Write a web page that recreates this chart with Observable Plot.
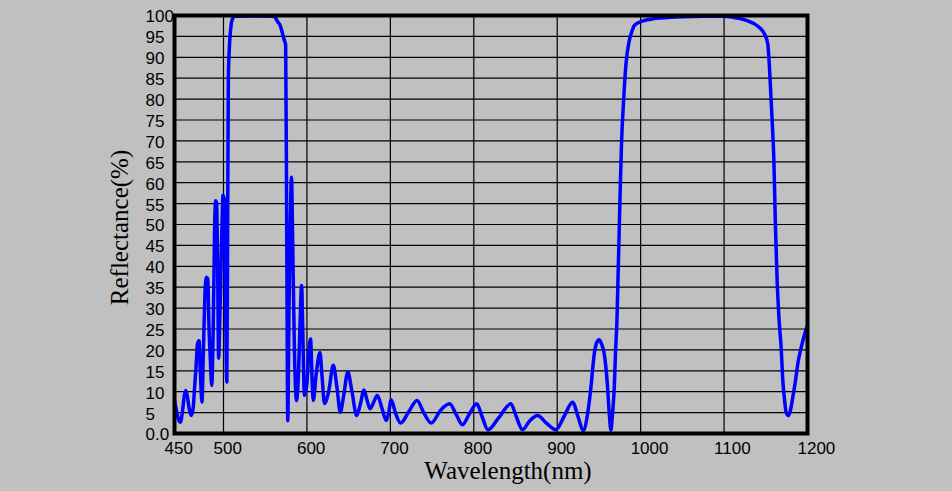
<!DOCTYPE html>
<html>
<head>
<meta charset="utf-8">
<script src="https://cdn.jsdelivr.net/npm/d3@7"></script>
<script src="https://cdn.jsdelivr.net/npm/@observablehq/plot@0.6"></script>
<style>
  html, body { margin: 0; padding: 0; background: #c0c0c0; overflow: hidden; }
</style>
</head>
<body>
<div id="chart"></div>
<script>
const wavelength = [
  450, 452, 454, 456, 458, 460, 461.5, 463, 465, 467, 469, 470.5, 472, 473.5, 475, 476.5, 478, 479.5, 481, 482.5,
  484, 485, 486.5, 488, 489.5, 491, 492, 493, 494, 495, 496.5, 497.5, 498.5, 499.5, 501, 502.5, 504, 505, 505.8, 506.5,
  507.5, 509, 511, 514, 530, 545, 560, 562, 565, 568, 571, 573, 574.5, 575.5, 576.2, 577, 578.5, 580, 581.5, 583,
  585, 587.5, 590, 592, 593.6, 595, 597, 600, 602, 604.4, 606, 607.6, 611, 615.6, 618, 621, 626, 631.6, 636, 640,
  644, 649, 654, 659.6, 664, 668.4, 672, 675.6, 680, 684.4, 690, 695, 698, 701, 706, 712.4, 722, 732, 740, 749,
  760, 771, 779, 786.4, 795, 803.6, 810, 817, 830, 844.4, 851, 858.4, 867, 876.4, 887, 898.4, 908, 918.4, 925, 931.2,
  936.4, 940.4, 944.4, 947.5, 950.4, 953, 956.4, 960.4, 962.4, 964.4, 966, 968.4, 970, 971.6, 973.2, 974.4, 975.6, 977.2, 979.6, 982.4,
  986.4, 989.2, 992.4, 996.4, 1004.4, 1015, 1024.4, 1050, 1075, 1100, 1110, 1120.4, 1130, 1136.4, 1143, 1148.4, 1152.4, 1154.4, 1156.4, 1158.4,
  1159.6, 1161.5, 1163.6, 1166, 1168.4, 1170.4, 1172.5, 1174.4, 1177.2, 1179.5, 1182.4, 1185.5, 1188.4, 1193, 1198.4, 1200
];
const reflectance = [
  7.9, 5.5, 3.5, 2.7, 5, 9, 10.3, 9, 6, 4.3, 6, 11, 16, 21.5, 22.2, 14, 7.5, 20, 33, 37.4,
  37, 27, 18, 11.5, 25, 50, 55.7, 55, 40, 18, 30, 40.6, 50, 57, 56, 30, 12.3, 50, 85, 90,
  94, 97.5, 99.3, 99.8, 99.9, 99.9, 99.8, 99.5, 98.5, 97.6, 95.5, 94, 93, 60, 30, 3.1, 30, 50, 61.3, 45,
  20, 7.9, 15, 28, 35.4, 25, 9.1, 12, 19, 22.6, 14, 7.9, 14, 19.4, 14, 7.2, 10, 16.3, 11, 5.1,
  9, 14.7, 10, 4.3, 7, 10.4, 8, 5.9, 7.5, 9.1, 6, 3.1, 5, 8.1, 5, 2.5, 5.2, 7.9, 5, 2.5,
  5.5, 7.1, 4.5, 2.1, 4.8, 7.1, 4, 0.9, 3.8, 7.1, 4, 0.9, 3, 4.3, 2.5, 0.9, 4, 7.5, 4, 0.7,
  4.7, 11, 19, 21.8, 22.4, 21.5, 19, 11, 4.7, 0.8, 4, 11.1, 20, 27, 39.8, 49.4, 58.9, 70.1, 79.7, 88.4,
  94, 96, 97.6, 98.2, 98.8, 99.2, 99.4, 99.7, 99.8, 99.8, 99.6, 99.2, 98.6, 98, 97, 95.6, 93.2, 87.6, 79.7, 71.7,
  66.1, 50, 36.6, 27, 20.6, 12.7, 8, 5.1, 4.3, 5.5, 8.7, 12.5, 16.7, 21, 25, 25.8
];
const xTicks = [450, 500, 600, 700, 800, 900, 1000, 1100, 1200];
const yTicks = [0, 5, 10, 15, 20, 25, 30, 35, 40, 45, 50, 55, 60, 65, 70, 75, 80, 85, 90, 95, 100];
const xTitle = "Wavelength(nm)";
const yTitle = "Reflectance(%)";

const data = wavelength.map((w, i) => ({w, r: reflectance[i]}));
const W = 952, H = 491, mL = 174, mR = 145, mT = 15, mB = 58;

const chart = Plot.plot({
  width: W,
  height: H,
  marginLeft: mL,
  marginRight: mR,
  marginTop: mT,
  marginBottom: mB,
  style: {background: "#c0c0c0", fontFamily: "Liberation Sans", overflow: "visible"},
  x: {type: "linear", domain: [450, 500, 1200], range: [mL, 223, W - mR], axis: null},
  y: {domain: [0, 100], axis: null},
  marks: [
    Plot.gridX(xTicks, {stroke: "black", strokeOpacity: 1, strokeWidth: 1.2}),
    Plot.gridY(yTicks, {stroke: "black", strokeOpacity: 1, strokeWidth: 1.2}),
    Plot.line(data, {x: "w", y: "r", stroke: "#0000ff", strokeWidth: 3.5, strokeLinejoin: "round", curve: "monotone-x"}),
    Plot.frame({stroke: "black", strokeWidth: 4}),
    Plot.text(yTicks, {y: d => d, frameAnchor: "left", dx: -29, dy: 1.5, textAnchor: "start", lineAnchor: "middle",
      text: d => d === 0 ? "0.0" : String(d), fontSize: 17, fill: "black"}),
    Plot.text(xTicks, {x: d => d, frameAnchor: "bottom", dx: -10, dy: 15, textAnchor: "start", lineAnchor: "middle",
      text: d => String(d), fontSize: 17, fill: "black"}),
    Plot.text([xTitle], {frameAnchor: "bottom", dx: 17, dy: 37, textAnchor: "middle", lineAnchor: "middle", text: d => d,
      fontFamily: "Liberation Serif", fontSize: 25, fill: "black", style: "letter-spacing:1px"}),
    Plot.text([yTitle], {y: () => 50, frameAnchor: "left", dx: -55, dy: 3, rotate: -90, textAnchor: "middle", lineAnchor: "middle",
      text: d => d, fontFamily: "Liberation Serif", fontSize: 25, fill: "black", style: "letter-spacing:0.8px"})
  ]
});
document.getElementById("chart").appendChild(chart);
</script>
</body>
</html>
